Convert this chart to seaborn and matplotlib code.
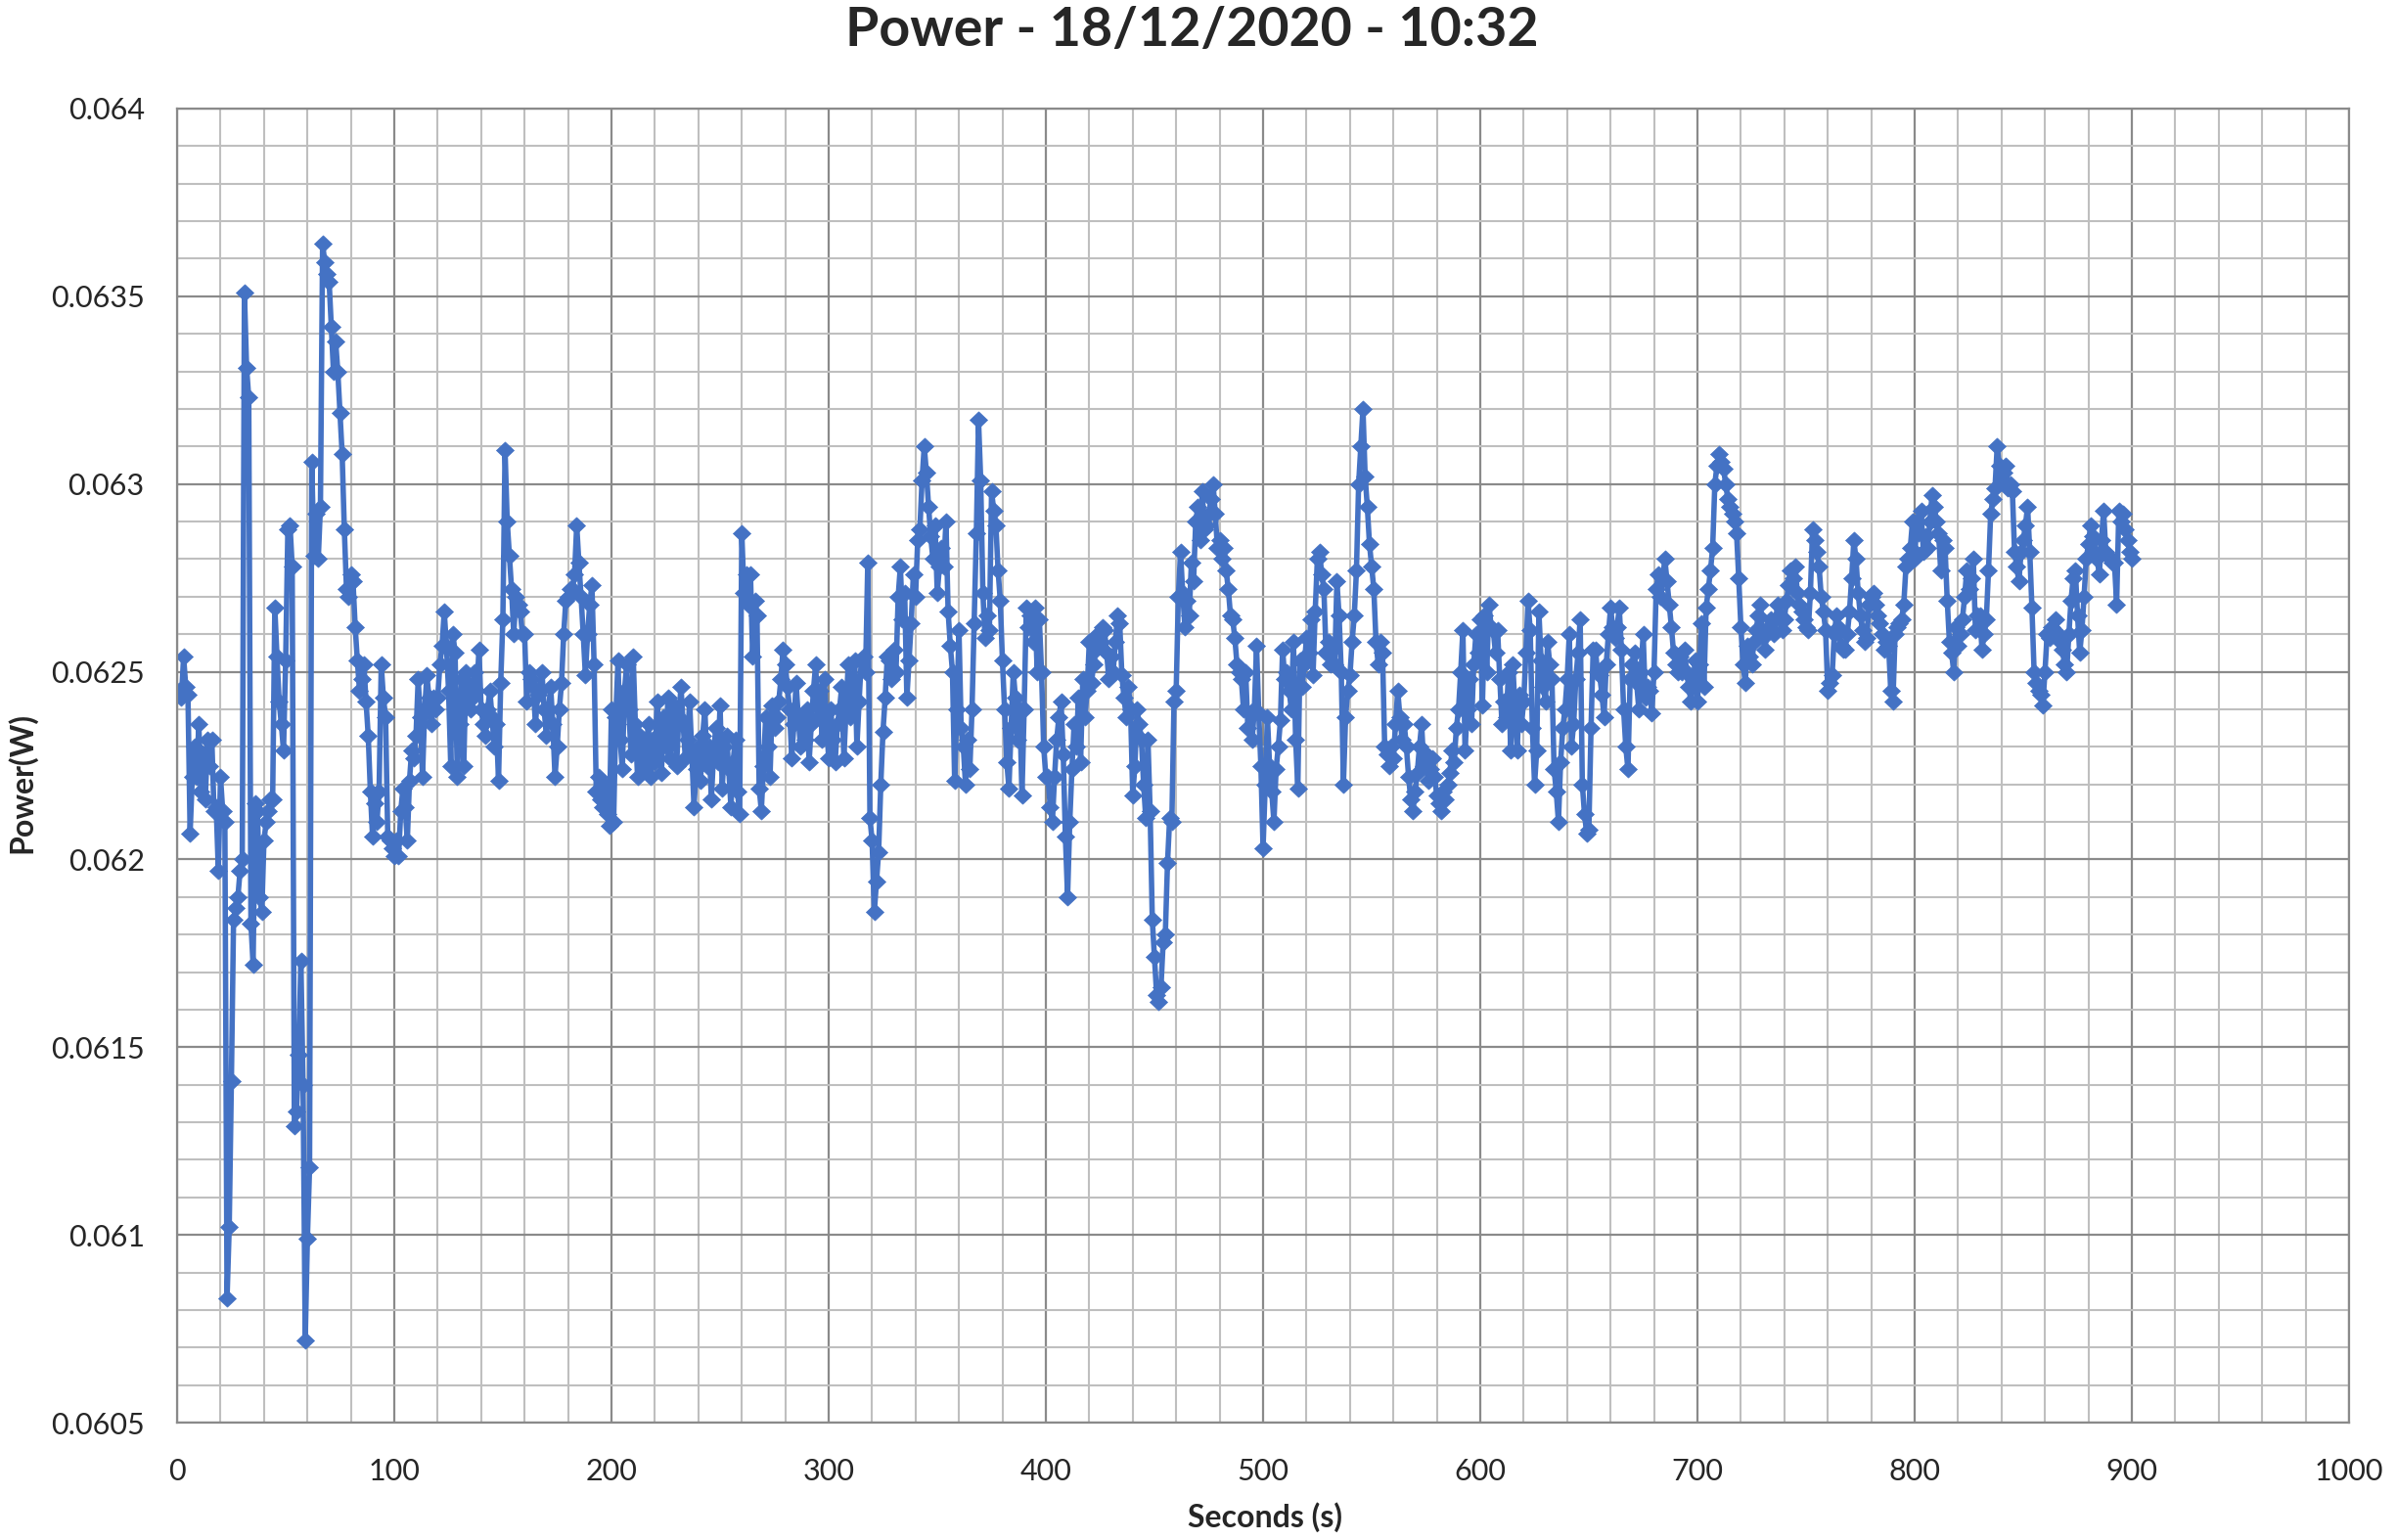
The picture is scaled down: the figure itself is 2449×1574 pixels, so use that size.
import numpy as np
import matplotlib
matplotlib.use("Agg")
import matplotlib.pyplot as plt
import seaborn as sns
from matplotlib.ticker import MultipleLocator

# Power readings (W), one per second in 100 s blocks
power_000 = [
    0.06245, 0.06243, 0.06254, 0.06246, 0.06244, 0.06207, 0.06222, 0.06230, 0.06222, 0.06236,
    0.06218, 0.06228, 0.06216, 0.06232, 0.06225, 0.06232, 0.06213, 0.06214, 0.06197, 0.06222,
    0.06213, 0.06210, 0.06083, 0.06102, 0.06141, 0.06184, 0.06187, 0.06190, 0.06197, 0.06200,
    0.06351, 0.06331, 0.06323, 0.06183, 0.06172, 0.06215, 0.06213, 0.06190, 0.06186, 0.06205,
    0.06210, 0.06213, 0.06216, 0.06216, 0.06267, 0.06254, 0.06242, 0.06236, 0.06229, 0.06253,
    0.06288, 0.06289, 0.06278, 0.06129, 0.06133, 0.06148, 0.06173, 0.06140, 0.06072, 0.06099,
    0.06118, 0.06306, 0.06281, 0.06292, 0.06280, 0.06294, 0.06364, 0.06359, 0.06356, 0.06354,
    0.06342, 0.06330, 0.06338, 0.06330, 0.06319, 0.06308, 0.06288, 0.06272, 0.06270, 0.06276,
    0.06274, 0.06262, 0.06253, 0.06245, 0.06248, 0.06252, 0.06242, 0.06233, 0.06218, 0.06206,
    0.06215, 0.06210, 0.06218, 0.06252, 0.06243, 0.06238, 0.06206, 0.06205, 0.06203, 0.06201,
]
power_100 = [
    0.06205, 0.06201, 0.06213, 0.06219, 0.06214, 0.06205, 0.06221, 0.06229, 0.06227, 0.06233,
    0.06248, 0.06238, 0.06222, 0.06240, 0.06249, 0.06243, 0.06236, 0.06243, 0.06240, 0.06243,
    0.06252, 0.06257, 0.06266, 0.06257, 0.06245, 0.06225, 0.06260, 0.06255, 0.06222, 0.06236,
    0.06248, 0.06225, 0.06250, 0.06247, 0.06240, 0.06243, 0.06250, 0.06245, 0.06256, 0.06240,
    0.06236, 0.06233, 0.06240, 0.06245, 0.06238, 0.06230, 0.06236, 0.06221, 0.06247, 0.06264,
    0.06309, 0.06290, 0.06281, 0.06272, 0.06260, 0.06270, 0.06268, 0.06266, 0.06260, 0.06260,
    0.06242, 0.06250, 0.06248, 0.06246, 0.06236, 0.06244, 0.06245, 0.06250, 0.06240, 0.06233,
    0.06240, 0.06246, 0.06236, 0.06222, 0.06230, 0.06240, 0.06247, 0.06260, 0.06269, 0.06270,
    0.06272, 0.06272, 0.06276, 0.06289, 0.06279, 0.06270, 0.06260, 0.06249, 0.06260, 0.06268,
    0.06273, 0.06252, 0.06218, 0.06222, 0.06216, 0.06214, 0.06220, 0.06212, 0.06209, 0.06240,
]
power_200 = [
    0.06210, 0.06238, 0.06253, 0.06232, 0.06224, 0.06245, 0.06252, 0.06240, 0.06228, 0.06254,
    0.06236, 0.06222, 0.06233, 0.06230, 0.06224, 0.06230, 0.06236, 0.06222, 0.06232, 0.06226,
    0.06242, 0.06232, 0.06223, 0.06238, 0.06230, 0.06243, 0.06227, 0.06235, 0.06241, 0.06225,
    0.06238, 0.06246, 0.06236, 0.06227, 0.06232, 0.06242, 0.06228, 0.06214, 0.06224, 0.06230,
    0.06221, 0.06233, 0.06240, 0.06225, 0.06230, 0.06216, 0.06228, 0.06235, 0.06226, 0.06241,
    0.06219, 0.06230, 0.06233, 0.06224, 0.06214, 0.06226, 0.06232, 0.06218, 0.06212, 0.06287,
    0.06271, 0.06276, 0.06268, 0.06276, 0.06254, 0.06269, 0.06265, 0.06219, 0.06213, 0.06225,
    0.06238, 0.06230, 0.06222, 0.06241, 0.06235, 0.06238, 0.06242, 0.06248, 0.06256, 0.06252,
    0.06246, 0.06240, 0.06227, 0.06236, 0.06247, 0.06238, 0.06230, 0.06236, 0.06232, 0.06240,
    0.06226, 0.06236, 0.06245, 0.06252, 0.06238, 0.06245, 0.06232, 0.06248, 0.06236, 0.06227,
]
power_300 = [
    0.06240, 0.06232, 0.06226, 0.06236, 0.06240, 0.06246, 0.06227, 0.06240, 0.06252, 0.06238,
    0.06245, 0.06253, 0.06230, 0.06242, 0.06253, 0.06254, 0.06250, 0.06279, 0.06211, 0.06205,
    0.06186, 0.06194, 0.06202, 0.06220, 0.06234, 0.06243, 0.06254, 0.06253, 0.06248, 0.06256,
    0.06250, 0.06270, 0.06278, 0.06264, 0.06271, 0.06243, 0.06253, 0.06263, 0.06276, 0.06270,
    0.06285, 0.06288, 0.06301, 0.06310, 0.06303, 0.06294, 0.06286, 0.06280, 0.06289, 0.06271,
    0.06278, 0.06283, 0.06278, 0.06290, 0.06266, 0.06257, 0.06250, 0.06221, 0.06240, 0.06261,
    0.06235, 0.06230, 0.06220, 0.06232, 0.06224, 0.06240, 0.06263, 0.06287, 0.06317, 0.06301,
    0.06271, 0.06259, 0.06265, 0.06261, 0.06298, 0.06293, 0.06289, 0.06277, 0.06269, 0.06253,
    0.06240, 0.06226, 0.06219, 0.06235, 0.06250, 0.06243, 0.06232, 0.06240, 0.06217, 0.06240,
    0.06267, 0.06262, 0.06265, 0.06258, 0.06267, 0.06250, 0.06264, 0.06250, 0.06230, 0.06222,
]
power_400 = [
    0.06222, 0.06214, 0.06210, 0.06222, 0.06232, 0.06238, 0.06242, 0.06228, 0.06206, 0.06190,
    0.06210, 0.06224, 0.06236, 0.06230, 0.06243, 0.06226, 0.06248, 0.06238, 0.06245, 0.06258,
    0.06247, 0.06252, 0.06256, 0.06260, 0.06258, 0.06262, 0.06261, 0.06255, 0.06248, 0.06254,
    0.06250, 0.06258, 0.06265, 0.06263, 0.06249, 0.06243, 0.06238, 0.06246, 0.06240, 0.06217,
    0.06225, 0.06240, 0.06236, 0.06232, 0.06220, 0.06211, 0.06232, 0.06213, 0.06184, 0.06174,
    0.06164, 0.06162, 0.06166, 0.06178, 0.06180, 0.06199, 0.06211, 0.06210, 0.06242, 0.06245,
    0.06270, 0.06282, 0.06271, 0.06262, 0.06269, 0.06265, 0.06279, 0.06274, 0.06290, 0.06294,
    0.06285, 0.06298, 0.06288, 0.06289, 0.06292, 0.06296, 0.06300, 0.06292, 0.06283, 0.06285,
    0.06280, 0.06283, 0.06277, 0.06272, 0.06265, 0.06264, 0.06259, 0.06252, 0.06250, 0.06248,
    0.06240, 0.06250, 0.06235, 0.06239, 0.06232, 0.06240, 0.06257, 0.06239, 0.06225, 0.06203,
]
power_500 = [
    0.06220, 0.06238, 0.06225, 0.06218, 0.06210, 0.06224, 0.06230, 0.06237, 0.06256, 0.06248,
    0.06250, 0.06245, 0.06240, 0.06258, 0.06232, 0.06219, 0.06253, 0.06246, 0.06252, 0.06259,
    0.06255, 0.06264, 0.06249, 0.06266, 0.06280, 0.06282, 0.06276, 0.06272, 0.06255, 0.06258,
    0.06252, 0.06256, 0.06252, 0.06274, 0.06265, 0.06250, 0.06220, 0.06238, 0.06245, 0.06249,
    0.06258, 0.06265, 0.06277, 0.06300, 0.06310, 0.06320, 0.06302, 0.06294, 0.06284, 0.06278,
    0.06272, 0.06258, 0.06252, 0.06258, 0.06255, 0.06230, 0.06228, 0.06225, 0.06230, 0.06227,
    0.06236, 0.06245, 0.06238, 0.06232, 0.06236, 0.06230, 0.06222, 0.06216, 0.06213, 0.06218,
    0.06223, 0.06230, 0.06236, 0.06225, 0.06228, 0.06221, 0.06224, 0.06227, 0.06222, 0.06217,
    0.06215, 0.06213, 0.06218, 0.06216, 0.06220, 0.06223, 0.06229, 0.06226, 0.06235, 0.06240,
    0.06250, 0.06261, 0.06229, 0.06240, 0.06248, 0.06236, 0.06252, 0.06260, 0.06255, 0.06264,
]
power_600 = [
    0.06241, 0.06265, 0.06250, 0.06268, 0.06262, 0.06261, 0.06255, 0.06261, 0.06248, 0.06236,
    0.06242, 0.06238, 0.06250, 0.06229, 0.06252, 0.06240, 0.06229, 0.06244, 0.06236, 0.06242,
    0.06255, 0.06269, 0.06261, 0.06235, 0.06220, 0.06229, 0.06266, 0.06253, 0.06246, 0.06242,
    0.06258, 0.06252, 0.06248, 0.06224, 0.06218, 0.06210, 0.06226, 0.06235, 0.06240, 0.06248,
    0.06260, 0.06230, 0.06236, 0.06248, 0.06255, 0.06264, 0.06220, 0.06212, 0.06207, 0.06208,
    0.06235, 0.06256, 0.06256, 0.06250, 0.06249, 0.06244, 0.06238, 0.06252, 0.06260, 0.06267,
    0.06262, 0.06259, 0.06262, 0.06267, 0.06256, 0.06240, 0.06230, 0.06224, 0.06248, 0.06252,
    0.06255, 0.06247, 0.06240, 0.06250, 0.06260, 0.06243, 0.06246, 0.06245, 0.06239, 0.06250,
    0.06272, 0.06276, 0.06270, 0.06275, 0.06280, 0.06274, 0.06268, 0.06262, 0.06255, 0.06252,
    0.06250, 0.06254, 0.06250, 0.06256, 0.06250, 0.06246, 0.06242, 0.06248, 0.06253, 0.06242,
]
power_700 = [
    0.06252, 0.06263, 0.06246, 0.06267, 0.06272, 0.06277, 0.06283, 0.06300, 0.06305, 0.06308,
    0.06306, 0.06304, 0.06300, 0.06296, 0.06294, 0.06292, 0.06290, 0.06287, 0.06275, 0.06262,
    0.06252, 0.06247, 0.06257, 0.06254, 0.06252, 0.06258, 0.06261, 0.06265, 0.06268, 0.06260,
    0.06256, 0.06260, 0.06262, 0.06264, 0.06260, 0.06264, 0.06268, 0.06265, 0.06261, 0.06264,
    0.06269, 0.06273, 0.06277, 0.06275, 0.06278, 0.06271, 0.06268, 0.06266, 0.06264, 0.06262,
    0.06261, 0.06271, 0.06288, 0.06285, 0.06282, 0.06278, 0.06270, 0.06266, 0.06261, 0.06245,
    0.06247, 0.06249, 0.06260, 0.06265, 0.06262, 0.06257, 0.06256, 0.06256, 0.06260, 0.06266,
    0.06275, 0.06285, 0.06280, 0.06271, 0.06265, 0.06261, 0.06258, 0.06259, 0.06268, 0.06270,
    0.06271, 0.06268, 0.06265, 0.06263, 0.06260, 0.06256, 0.06258, 0.06257, 0.06245, 0.06242,
    0.06260, 0.06262, 0.06263, 0.06264, 0.06268, 0.06278, 0.06280, 0.06283, 0.06290, 0.06280,
]
power_800 = [
    0.06290, 0.06287, 0.06293, 0.06282, 0.06286, 0.06283, 0.06290, 0.06297, 0.06294, 0.06290,
    0.06287, 0.06277, 0.06285, 0.06283, 0.06269, 0.06258, 0.06255, 0.06250, 0.06262, 0.06257,
    0.06260, 0.06264, 0.06270, 0.06277, 0.06272, 0.06275, 0.06280, 0.06261, 0.06265, 0.06265,
    0.06256, 0.06260, 0.06264, 0.06277, 0.06292, 0.06296, 0.06299, 0.06310, 0.06305, 0.06301,
    0.06303, 0.06305, 0.06299, 0.06300, 0.06298, 0.06282, 0.06278, 0.06274, 0.06282, 0.06285,
    0.06289, 0.06294, 0.06282, 0.06267, 0.06250, 0.06247, 0.06245, 0.06244, 0.06241, 0.06250,
    0.06260, 0.06259, 0.06262, 0.06261, 0.06264, 0.06260, 0.06258, 0.06256, 0.06252, 0.06250,
    0.06260, 0.06269, 0.06275, 0.06277, 0.06265, 0.06255, 0.06261, 0.06270, 0.06280, 0.06284,
    0.06289, 0.06286, 0.06282, 0.06280, 0.06276, 0.06285, 0.06293, 0.06282, 0.06281, 0.06280,
    0.06279, 0.06279, 0.06268, 0.06293, 0.06290, 0.06292, 0.06288, 0.06285, 0.06282, 0.06280,
]

power = (power_000 + power_100 + power_200 + power_300 + power_400
         + power_500 + power_600 + power_700 + power_800)
seconds = list(range(1, len(power) + 1))

x_ticks = [0, 100, 200, 300, 400, 500, 600, 700, 800, 900, 1000]
y_ticks = [0.0605, 0.061, 0.0615, 0.062, 0.0625, 0.063, 0.0635, 0.064]
y_tick_labels = ["0.0605", "0.061", "0.0615", "0.062", "0.0625", "0.063", "0.0635", "0.064"]

sns.set_style("white")
plt.rcParams['font.family'] = ['Lato', 'DejaVu Sans']

fig = plt.figure(figsize=(24.49, 15.74), dpi=100)
ax = fig.add_axes([181 / 2449, 1 - 1454 / 1574, 2220 / 2449, 1343 / 1574])

# diamond marker, close to the spreadsheet look
diamond = [(-1, 0), (0, 0.95), (1, 0), (0, -0.95), (-1, 0)]
sns.lineplot(x=seconds, y=power, ax=ax, color='#4472C4', linewidth=4,
             marker=diamond, markersize=13, markeredgecolor='#4472C4',
             markerfacecolor='#4472C4', markeredgewidth=0.5, sort=False, estimator=None)

ax.set_xlim(0, 1000)
ax.set_ylim(0.0605, 0.064)
ax.set_xticks(x_ticks)
ax.set_xticklabels([str(t) for t in x_ticks])
ax.xaxis.set_minor_locator(MultipleLocator(20))
ax.set_yticks(y_ticks)
ax.set_yticklabels(y_tick_labels)
ax.yaxis.set_minor_locator(MultipleLocator(0.0001))

ax.set_axisbelow(True)
ax.grid(which='minor', color='#bfbfbf', linewidth=1.5)
ax.grid(which='major', color='#8a8a8a', linewidth=1.6)
for side in ['left', 'right', 'top', 'bottom']:
    ax.spines[side].set_color('#8a8a8a')
    ax.spines[side].set_linewidth(1.6)

ax.tick_params(axis='both', which='major', labelsize=22, length=8, width=1.6,
               color='#8a8a8a', direction='out')
ax.tick_params(axis='y', which='major', pad=16)
ax.tick_params(axis='x', which='major', pad=18)
ax.tick_params(axis='both', which='minor', length=0)

ax.set_xlabel('')
ax.set_ylabel('')
fig.text(0.4975, 1 - 31 / 1574, 'Power - 18/12/2020 - 10:32', ha='center', va='center',
         fontsize=40, fontweight='bold')
fig.text(1293 / 2449, 1 - 1551 / 1574, 'Seconds (s)', ha='center', va='center',
         fontsize=23, fontweight='bold')
fig.text(22 / 2449, 1 - 800 / 1574, 'Power(W)', ha='center', va='center',
         rotation=90, fontsize=23, fontweight='bold')

fig.savefig('out.png', dpi=100, facecolor='white')
